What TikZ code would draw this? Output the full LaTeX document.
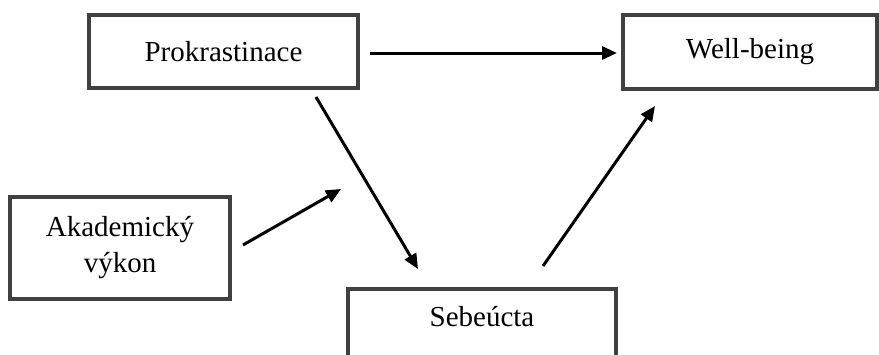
\documentclass[tikz,border=0pt]{standalone}
\usepackage{fontspec}
\setmainfont{Liberation Serif}
\usetikzlibrary{arrows.meta}
\definecolor{boxgray}{HTML}{404040}
\begin{document}
\begin{tikzpicture}[x=1pt,y=-1pt,
  box/.style={draw=boxgray, line width=3.5pt, fill=white, inner sep=0pt,
    font=\fontsize{29}{36}\selectfont, align=center},
  arr/.style={line width=3pt, -{Triangle[length=15pt,width=13pt]}}]
\useasboundingbox (0,0) rectangle (879,354);
\clip (0,0) rectangle (879,354);
\node[box, minimum width=269pt, minimum height=73pt] (prok) at (223.5,51.5) {Prokrastinace};
\node[box, minimum width=254pt, minimum height=74pt] (wb) at (750,52) {Well-being};
\node[box, minimum width=220pt, minimum height=102pt] (akad) at (120,248) {Akademický\\výkon};
\node[box, minimum width=268pt, minimum height=70pt, anchor=north] (sebbox) at (482,287) {};
\node[font=\fontsize{29}{36}\selectfont] (seb) at (482,317) {Sebeúcta};
\coordinate (a1) at (370,53);
\coordinate (a2) at (617,53);
\coordinate (b1) at (316,97);
\coordinate (b2) at (418,269);
\coordinate (c1) at (243,245);
\coordinate (c2) at (341,189);
\coordinate (d1) at (543,266);
\coordinate (d2) at (655,106);
\draw[arr] (a1) -- (a2);
\draw[arr] (b1) -- (b2);
\draw[arr] (c1) -- (c2);
\draw[arr] (d1) -- (d2);
\end{tikzpicture}
\end{document}
